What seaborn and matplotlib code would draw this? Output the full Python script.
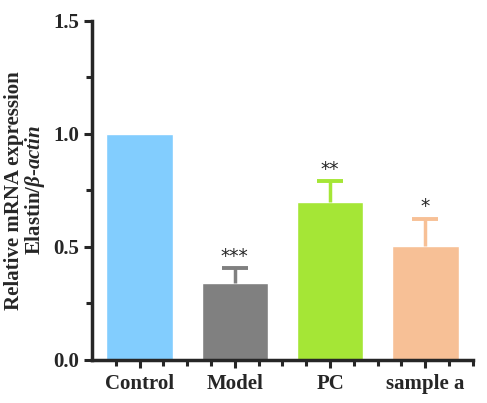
import numpy as np
import pandas as pd
import matplotlib
matplotlib.use("Agg")
import matplotlib.pyplot as plt
from matplotlib.ticker import MultipleLocator, FixedLocator
import seaborn as sns

# Data
groups = ["Control", "Model", "PC", "sample a"]
means = [1.0, 0.34, 0.70, 0.505]
sd_up = [0.0, 0.065, 0.09, 0.12]
stars = ["", "***", "**", "*"]
colors = ["#82CDFE", "#808080", "#A5E636", "#F7C096"]

sns.set_style("ticks")
plt.rcParams['font.family'] = ['Liberation Serif', 'DejaVu Serif']
plt.rcParams['font.weight'] = 'bold'
plt.rcParams['mathtext.fontset'] = 'custom'
plt.rcParams['mathtext.rm'] = 'Liberation Serif:bold'
plt.rcParams['mathtext.it'] = 'Liberation Serif:italic:bold'
plt.rcParams['mathtext.bf'] = 'Liberation Serif:bold'

df = pd.DataFrame({"group": groups, "value": means})

fig = plt.figure(figsize=(4.87, 4.03), dpi=100)
ax = fig.add_axes([0.189, 0.107, 0.782, 0.841])

sns.barplot(data=df, x="group", y="value", hue="group", palette=colors,
            width=0.7, legend=False, saturation=1, ax=ax)

# upward-only error bars in the bar colour
for i, (m, e, c) in enumerate(zip(means, sd_up, colors)):
    if e > 0:
        ax.vlines(i, m, m + e, color=c, linewidth=2.5, zorder=1)
        ax.plot([i], [m + e], marker="_", markersize=19, mew=2.8,
                color=c, zorder=1)
    if stars[i]:
        ax.text(i, m + e + 0.01, stars[i], ha="center", va="bottom",
                fontsize=13.5, family="DejaVu Sans", fontweight="normal")

ax.set_xlim(-0.5, 3.5)
ax.set_ylim(0, 1.5)
ax.yaxis.set_major_locator(MultipleLocator(0.5))
ax.yaxis.set_minor_locator(MultipleLocator(0.25))
ax.yaxis.set_major_formatter(matplotlib.ticker.FormatStrFormatter("%.1f"))

ax.set_xticks(range(len(groups)))
ax.set_xticklabels(groups)
ax.xaxis.set_minor_locator(FixedLocator(np.arange(-0.25, 3.6, 0.25)))

sns.despine(ax=ax)
for sp in ["left", "bottom"]:
    ax.spines[sp].set_linewidth(2.5)
ax.tick_params(axis="both", which="major", width=2.2, length=6, labelsize=15)
ax.tick_params(axis="both", which="minor", width=2.2, length=4)
ax.tick_params(axis="x", which="major", pad=4)

ax.set_xlabel("")
ax.set_ylabel("Relative mRNA expression\nElastin/$\\beta$-$actin$",
              fontsize=15, fontweight="bold", labelpad=4, linespacing=0.95)

fig.savefig("out.png", dpi=100)
